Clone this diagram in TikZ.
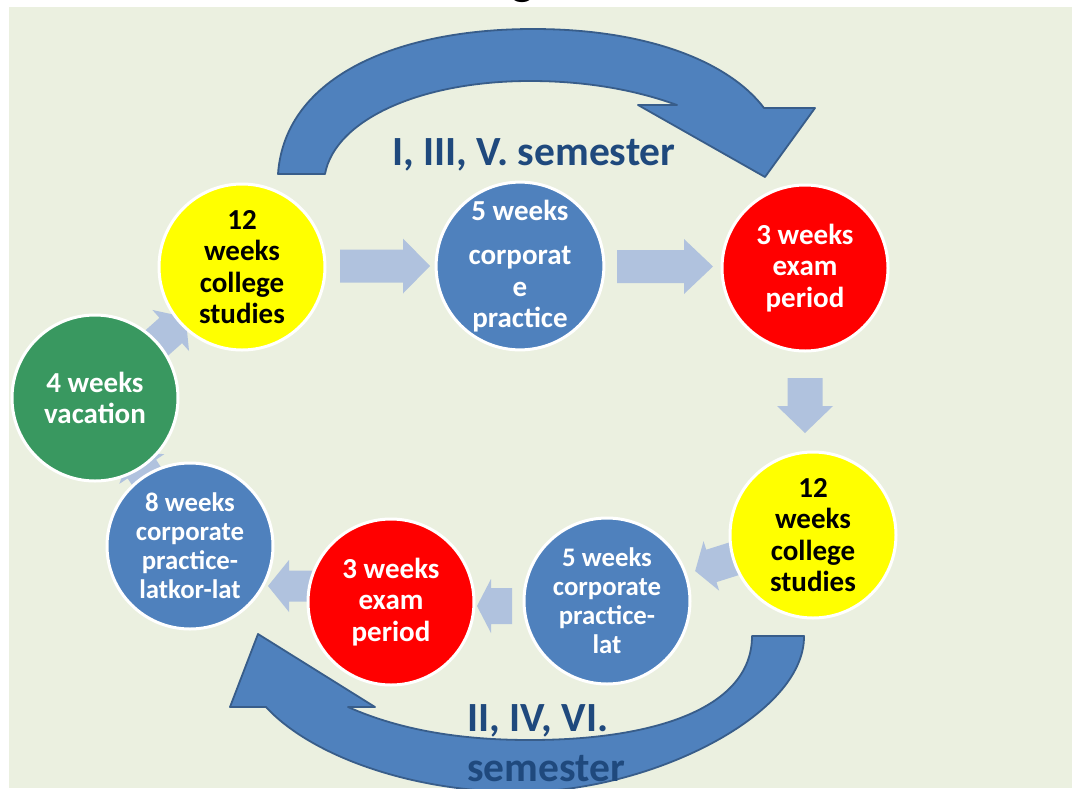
\documentclass[tikz,border=0pt]{standalone}
\usepackage{fontspec}
\setmainfont{Carlito}
\usetikzlibrary{calc}
\definecolor{bg}{RGB}{235,240,224}
\definecolor{cblue}{RGB}{79,129,189}
\definecolor{cbluedark}{RGB}{56,93,138}
\definecolor{cyellow}{RGB}{255,255,0}
\definecolor{cred}{RGB}{255,0,0}
\definecolor{cgreen}{RGB}{57,152,96}
\definecolor{arrowblue}{RGB}{176,194,222}
\definecolor{semblue}{RGB}{31,73,125}
\tikzset{
  circ/.style={circle, draw=white, line width=3pt, minimum size=166pt, inner sep=0pt, align=center,
    font=\bfseries\fontsize{29}{31.5}\selectfont},
  circsmall/.style={circ, font=\bfseries\fontsize{26.8}{29}\selectfont},
  bigarrow/.style={fill=cblue, draw=cbluedark, line width=1.8pt, line join=round},
  semlabel/.style={text=semblue, font=\bfseries\fontsize{41.5}{50}\selectfont, inner sep=0pt},
  pics/barrow/.style n args={4}{code={
    \fill[arrowblue] ({-#1/2},{-#4}) -- ({#1/2-#2},{-#4}) -- ({#1/2-#2},{-#3}) -- ({#1/2},0)
      -- ({#1/2-#2},{#3}) -- ({#1/2-#2},{#4}) -- ({-#1/2},{#4}) -- cycle;}}
}
\begin{document}
\begin{tikzpicture}[x=1pt,y=-1pt]
\useasboundingbox (0,0) rectangle (1072,788);
\clip (0,0) rectangle (1072,788);
\fill[white] (0,0) rectangle (1072,788);
\fill[bg] (9,7) rectangle (1072,788);
\node[font=\bfseries\fontsize{48}{48}\selectfont, anchor=base, inner sep=0pt] (title) at (523,-6) {g};

% curved arrows
\draw[bigarrow] (278,174) .. controls (285,75) and (400,29) .. (533,29)
  .. controls (650,29) and (730,63) .. (764,108) -- (815,108) -- (765,177) -- (638,105) -- (677,105)
  .. controls (630,88) and (580,81) .. (530,81) .. controls (420,81) and (335,120) .. (325,174) -- cycle;
\draw[bigarrow] (804,636) .. controls (805,715) and (650,792) .. (520,792)
  .. controls (410,792) and (310,755) .. (266,707) -- (230,707) -- (258,634) -- (375,707) -- (348,707)
  .. controls (400,730) and (460,740) .. (530,740) .. controls (650,740) and (752,710) .. (752,636) -- cycle;

% small block arrows (under circles)
\pic[rotate=0] at (385,266) {barrow={90}{27}{27.5}{16.5}};
\pic[rotate=0] at (665,266.5) {barrow={96}{29}{27.5}{16.5}};
\pic[rotate=-90] at (805,405.5) {barrow={55}{27}{28}{17.5}};
\pic[rotate=197.5] at (719,563.5) {barrow={50}{17}{26}{17}};
\pic[rotate=180] at (494.5,606) {barrow={35}{14}{27}{18}};
\pic[rotate=180] at (293,586) {barrow={50}{21}{26}{15.5}};
\pic[rotate=123.4] at (143.5,471.5) {barrow={46}{20}{27}{17}};
\pic[rotate=41.7] at (168.5,332.5) {barrow={46}{20}{27.5}{17}};

% circles
\node[circ, fill=cyellow, text=black] (y1) at (242,267) {12\\weeks\\college\\studies};
\node[circ, fill=cblue, text=white] (b1) at (520,266) {5 weeks\\[13pt]corporat\\e\\practice};
\node[circ, fill=cred, text=white] (r1) at (805,268) {3 weeks\\exam\\period};
\node[circ, fill=cyellow, text=black] (y2) at (813,535) {12\\weeks\\college\\studies};
\node[circsmall, fill=cblue, text=white] (b2) at (607,601) {5 weeks\\corporate\\practice-\\lat};
\node[circ, fill=cred, text=white] (r2) at (391,602) {3 weeks\\exam\\period};
\node[circsmall, fill=cblue, text=white] (b3) at (190,546) {8 weeks\\corporate\\practice-\\latkor-lat};
\node[circ, fill=cgreen, text=white] (g1) at (95,398) {4 weeks\\vacation};

% semester labels
\node[semlabel] (sem1) at (534,155) {I, III, V. semester};
\node[semlabel, align=left, anchor=west] (sem2) at (467,743) {II, IV, VI.\\semester};
\end{tikzpicture}
\end{document}
